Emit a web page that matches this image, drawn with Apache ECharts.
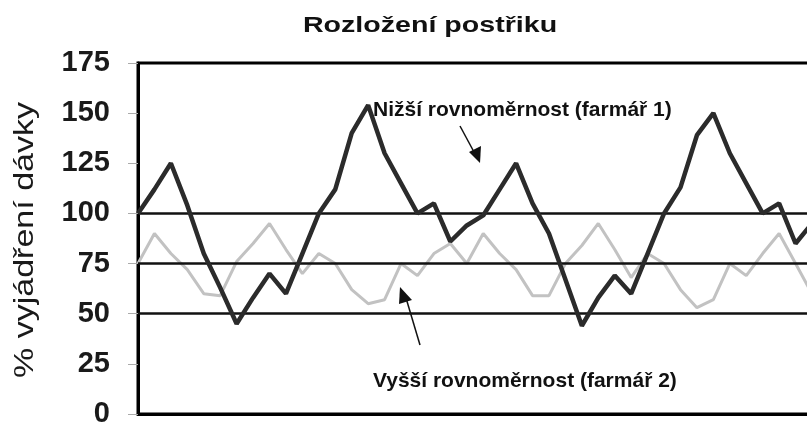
<!DOCTYPE html>
<html>
<head>
<meta charset="utf-8">
<script src="https://cdn.jsdelivr.net/npm/echarts@6/dist/echarts.min.js"></script>
<style>
  html, body { margin: 0; padding: 0; background: #fff; }
  #chart { width: 807px; height: 423px; }
</style>
</head>
<body>
<div id="chart"></div>
<script>
// hodnoty
var positions = [];
for (var i = 0; i < 42; i++) positions.push(String(i + 1));

var farmar1 = [100, 112, 125, 104, 80, 63, 45, 58, 70, 60,
               80, 100, 112, 140, 154, 130, 115, 100, 105, 86,
               94, 99, 112, 125, 105, 90, 67, 44, 58, 69,
               60, 80, 100, 113, 139, 150, 130, 115, 100, 105,
               85, 95];

var farmar2 = [75, 90, 80, 72, 60, 59, 76, 85, 95, 82,
               70, 80, 75, 62, 55, 57, 75, 69, 80, 85,
               75, 90, 80, 72, 59, 59, 75, 84, 95, 82,
               68, 80, 75, 62, 53, 57, 75, 69, 80, 90,
               75, 60];

var refLevels = [50, 75, 100];
var yTicks = { min: 0, max: 175, step: 25 };

var font = "Arial, 'Liberation Sans', sans-serif";

var chart = echarts.init(document.getElementById('chart'));

var option = {
	animation: false,
	backgroundColor: '#fff',
	grid: {
		left: 138,
		top: 63,
		right: -5,
		bottom: 9,
		outerBoundsMode: 'none',
		containLabel: false,
		show: true,
		borderColor: '#000',
		borderWidth: 3
	},
	xAxis: {
		type: 'category',
		data: positions,
		boundaryGap: false,
		axisLine: { lineStyle: { color: '#000', width: 3 } },
		axisTick: { show: false },
		axisLabel: { show: false },
		splitLine: { show: false }
	},
	yAxis: {
		type: 'value',
		min: yTicks.min,
		max: yTicks.max,
		interval: yTicks.step,
		axisLine: { show: true, lineStyle: { color: '#000', width: 3 } },
		axisTick: { show: true, inside: false, length: 10, lineStyle: { color: '#aaa', width: 1 } },
		axisLabel: { margin: 28, fontFamily: font, fontSize: 29, fontWeight: 'bold', color: '#1a1a1a' },
		splitLine: { show: false }
	},
	series: [
		{
			name: 'Vyšší rovnoměrnost (farmář 2)',
			type: 'line',
			data: farmar2,
			symbol: 'none',
			lineStyle: { color: '#c2c2c2', width: 3 },
			z: 2,
			markLine: {
				silent: true,
				symbol: 'none',
				label: { show: false },
				lineStyle: { color: '#111', width: 2.5, type: 'solid' },
				data: refLevels.map(function(v) { return { yAxis: v }; })
			}
		},
		{
			name: 'Nižší rovnoměrnost (farmář 1)',
			type: 'line',
			data: farmar1,
			symbol: 'none',
			lineStyle: { color: '#2b2b2b', width: 4.5 },
			z: 5
		}
	],
	graphic: [
		// nadpis
		{
			type: 'text', x: 430, y: 26, scaleX: 1.3, z: 10,
			style: { text: 'Rozložení postřiku', fontFamily: font, fontSize: 22, fontWeight: 'bold', fill: '#111', align: 'center', verticalAlign: 'middle' }
		},
		// popis osy y
		{
			type: 'text', x: 26, y: 240, rotation: Math.PI / 2, scaleX: 1.26, z: 10,
			style: { text: '% vyjádření dávky', fontFamily: font, fontSize: 27, fill: '#1a1a1a', align: 'center', verticalAlign: 'middle' }
		},
		{
			type: 'text', x: 373, y: 110, z: 10,
			style: { text: 'Nižší rovnoměrnost (farmář 1)', fontFamily: font, fontSize: 21, fontWeight: 'bold', fill: '#111', verticalAlign: 'middle' }
		},
		{
			type: 'text', x: 373, y: 381, z: 10,
			style: { text: 'Vyšší rovnoměrnost (farmář 2)', fontFamily: font, fontSize: 21, fontWeight: 'bold', fill: '#111', verticalAlign: 'middle' }
		},
		{
			type: 'line', z: 10,
			shape: { x1: 460, y1: 126, x2: 474, y2: 152 },
			style: { stroke: '#111', lineWidth: 1.5 }
		},
		{
			type: 'polygon', z: 10,
			shape: { points: [[469, 152], [481, 146], [480, 163]] },
			style: { fill: '#111' }
		},
		{
			type: 'line', z: 10,
			shape: { x1: 420, y1: 345, x2: 406, y2: 298 },
			style: { stroke: '#111', lineWidth: 1.5 }
		},
		{
			type: 'polygon', z: 10,
			shape: { points: [[400, 287], [399, 304], [412, 300]] },
			style: { fill: '#111' }
		}
	]
};

chart.setOption(option);
</script>
</body>
</html>
